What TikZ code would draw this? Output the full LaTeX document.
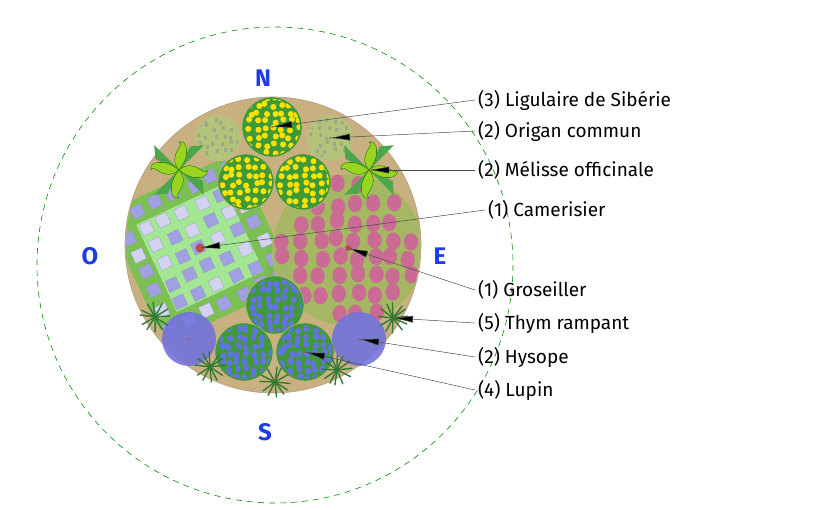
\documentclass[tikz,border=0pt]{standalone}
\usepackage{fontspec}
\setmainfont{Fira Sans}
\usetikzlibrary{arrows.meta}
\definecolor{sand}{HTML}{C8B080}
\definecolor{dgreen}{HTML}{3E9A36}
\definecolor{olive}{HTML}{A4B862}
\definecolor{lgreen}{HTML}{74C250}
\definecolor{pink}{HTML}{CC6A96}
\definecolor{lav}{HTML}{8080D8}
\definecolor{blueD}{HTML}{3C50D8}
\definecolor{compass}{HTML}{1E3CE6}
\tikzset{
  lbl/.style={anchor=west,font=\fontsize{19}{19}\selectfont,inner sep=0pt},
  cmp/.style={font=\fontsize{24}{24}\selectfont\bfseries,text=compass},
  lead/.style={draw=black!70,line width=0.5pt,-{Latex[length=20pt,width=7pt,fill=black]}},
  plant/.style={circle,inner sep=0pt,minimum size=2pt},
  cen/.style={fill=red!60!black!70},
}
\begin{document}
\begin{tikzpicture}[x=1pt,y=-1pt]
\useasboundingbox (0,0) rectangle (824,510);
\pgfmathsetseed{7}
% dashed orientation circle
\draw[green!55!black,dashed,dash pattern=on 6pt off 5pt,line width=0.6pt] (275,265) circle (238);
% garden
\fill[sand] (273,245) circle (148);
\draw[brown!70!black!60,line width=0.6pt] (273,245) circle (148);
% trunk
\fill[brown!75!black!80] (268,240) -- (285,240) -- (282,290) -- (266,292) -- cycle;
% camerisier
\begin{scope}
 \clip (273,245) circle (147);
 \begin{scope}[shift={(200,248)},rotate=25]
  \fill[lgreen,opacity=0.9,rounded corners=25pt] (-72,-72) rectangle (72,72);
  \fill[green!25!lgreen!55!white] (-48,-48) rectangle (48,48);
  \foreach \i in {-60,-40,...,60} \foreach \j in {-60,-40,...,60}{
    \pgfmathsetmacro\c{rand>0.3?35:75}
    \fill[lav!\c!white,draw=lav!60!black!60,line width=0.2pt] (\i-6+rand*2,\j-6+rand*2) rectangle ++(12,12);}
 \end{scope}
\end{scope}
% groseiller
\begin{scope}
 \clip (273,245) circle (147);
 \fill[olive,opacity=0.92,draw=brown!60] (348,250) circle (76);
 \foreach \i in {-64,-46,...,64} \foreach \j in {-64,-46,...,64}{
   \pgfmathsetmacro\d{sqrt(\i*\i+\j*\j)}
   \ifdim\d pt<68pt \fill[pink,draw=red!40!black!50,line width=0.3pt] (348+\i+rand*3,250+\j+rand*3) ellipse (7 and 8.5); \fi}
\end{scope}
% ligulaire
\foreach \x/\y/\r in {272/127/30,246/182/28,303/182/28}{
 \begin{scope}
  \fill[dgreen,draw=brown!60,line width=0.4pt] (\x,\y) circle (\r);
  \clip (\x,\y) circle (\r-2);
  \foreach \i in {-30,-22,...,30} \foreach \j in {-30,-22,...,30}
    \fill[yellow!85!orange] (\x+\i+rand*2,\y+\j+rand*2) circle (3);
 \end{scope}}
% origan
\foreach \x/\y in {218/138,330/138}{
 \begin{scope}
  \fill[olive!85!white,draw=brown!60,line width=0.4pt] (\x,\y) circle (23);
  \clip (\x,\y) circle (21);
  \foreach \i in {-20,-12,...,20} \foreach \j in {-20,-12,...,20}
    \fill[olive!60!black!60] (\x+\i+rand*3,\y+\j+rand*3) rectangle ++(3,4);
 \end{scope}}
% melisse
\foreach \x/\y in {179/170,369/170}{
 \foreach \a in {45,135,225,315} \fill[green!50!black!70] (\x,\y) -- ++(\a-20:26) -- ++(\a+40:14) -- cycle;
 \foreach \a in {0,90,180,270} \fill[yellow!60!green,draw=green!40!black,line width=0.3pt] (\x,\y) .. controls ++(\a+40:20) and ++(\a+70:8) .. ++(\a:28) .. controls ++(\a-70:-8) and ++(\a-40:20) .. (\x,\y);
}
% lupin
\foreach \x/\y in {275/305,244/352,305/352}{
 \begin{scope}
  \fill[dgreen,draw=brown!60,line width=0.4pt] (\x,\y) circle (29);
  \clip (\x,\y) circle (27);
  \foreach \i in {-30,-22,...,30} \foreach \j in {-30,-22,...,30}
    \fill[blueD!80!white] (\x+\i+rand*2,\y+\j+rand*2) ellipse (3 and 3.6);
 \end{scope}}
% hysope
\foreach \x/\y in {189/339,359/339}
 \fill[lav!90!blue,opacity=0.9] (\x,\y) circle (27);
% thym
\foreach \x/\y in {155/317,393/318,210/367,275/382,337/370}{
 \foreach \a in {0,30,...,330} \draw[green!35!black!80,line width=1.4pt,line cap=round] (\x,\y) -- ++(\a+rand*8:15);
}
% plant centres (named)
\node[plant,cen] (lig) at (272,127) {};
\node[plant,cen] (org) at (330,138) {};
\node[plant,cen] (mel) at (369,170) {};
\node[plant,cen,minimum size=9pt] (cam) at (200,248) {};
\node[plant,cen,minimum size=6pt] (gro) at (348,248) {};
\node[plant] (thy) at (393,318) {};
\node[plant,cen] (hys) at (359,339) {};
\node[plant,cen] (lup) at (305,352) {};
\node[plant,cen] at (189,339) {};
% compass
\node[cmp] at (263,78) {N};
\node[cmp] at (90,256) {O};
\node[cmp] at (440,256) {E};
\node[cmp] at (265,432) {S};
% labels
\node[lbl] (l1) at (478,100) {(3) Ligulaire de Sibérie};
\node[lbl] (l2) at (478,131) {(2) Origan commun};
\node[lbl] (l3) at (478,170) {(2) Mélisse officinale};
\node[lbl] (l4) at (488,210) {(1) Camerisier};
\node[lbl] (l5) at (478,290) {(1) Groseiller};
\node[lbl] (l6) at (478,323) {(5) Thym rampant};
\node[lbl] (l7) at (478,357) {(2) Hysope};
\node[lbl] (l8) at (478,390) {(4) Lupin};
\foreach \a/\b in {l1/lig,l2/org,l3/mel,l4/cam,l5/gro,l6/thy,l7/hys,l8/lup}
  \draw[lead] ([xshift=-3pt]\a.west) -- (\b.center);
\end{tikzpicture}
\end{document}
